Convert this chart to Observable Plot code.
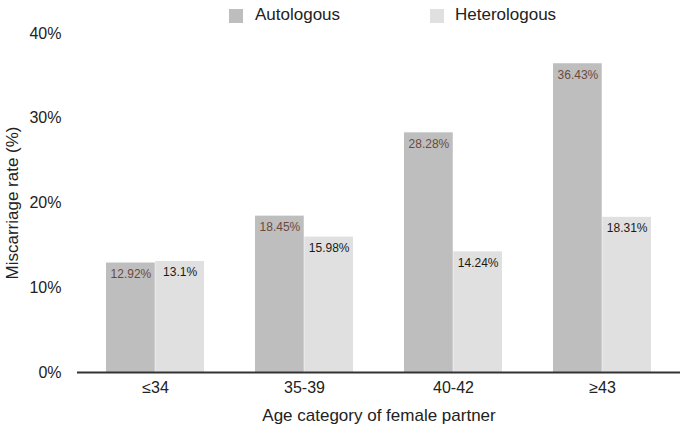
<!DOCTYPE html>
<html>
<head>
<meta charset="utf-8">
<script src="https://cdn.jsdelivr.net/npm/d3@7"></script>
<script src="https://cdn.jsdelivr.net/npm/@observablehq/plot@0.6"></script>
<style>
  body { margin: 0; background: #fff; font-family: "Liberation Sans", Arial, sans-serif; }
  #wrap { position: relative; width: 680px; height: 428px; }
  #legend { position: absolute; top: 0; left: 0; width: 680px; height: 30px; font-size: 17px; color: #222; }
  .sw { position: absolute; top: 9px; width: 14px; height: 14px; }
  .lb { position: absolute; top: 5px; line-height: 20px; }
</style>
</head>
<body>
<div id="wrap">
  <div id="chart"></div>
  <div id="legend"></div>
</div>
<script>
const ages = ["≤34", "35-39", "40-42", "≥43"];
const series = ["Autologous", "Heterologous"];
const autologous = [12.92, 18.45, 28.28, 36.43];
const heterologous = [13.1, 15.98, 14.24, 18.31];
const autoLabels = ["12.92%", "18.45%", "28.28%", "36.43%"];
const heteroLabels = ["13.1%", "15.98%", "14.24%", "18.31%"];
const yTicks = [0, 10, 20, 30, 40];
const colors = ["#bebebe", "#e0e0e0"];

const autoData = ages.map((a, i) => ({age: a, value: autologous[i], label: autoLabels[i]}));
const heteroData = ages.map((a, i) => ({age: a, value: heterologous[i], label: heteroLabels[i]}));

const W = 680, H = 428, ML = 77, MR = 0;
const pIn = 0.34, pOut = 0.19;
const step = (W - ML - MR) / (ages.length - pIn + 2 * pOut);
const half = step * (1 - pIn) / 2;

const plot = Plot.plot({
  width: W,
  height: H,
  marginLeft: ML,
  marginRight: MR,
  marginTop: 33,
  marginBottom: 56,
  style: {fontFamily: "'Liberation Sans', Arial, sans-serif", fontSize: "16px", color: "#222", background: "#fff"},
  x: {type: "band", domain: ages, paddingInner: pIn, paddingOuter: pOut},
  y: {domain: [0, 40]},
  marks: [
    Plot.barY(autoData, {x: "age", y: "value", fill: colors[0], insetRight: half}),
    Plot.barY(heteroData, {x: "age", y: "value", fill: colors[1], insetLeft: half}),
    Plot.text(autoData, {x: "age", y: "value", text: "label", dx: -half / 2, dy: 11, fill: "#6b4a3e", fontSize: 12}),
    Plot.text(heteroData, {x: "age", y: "value", text: "label", dx: half / 2, dy: 11, fill: "#1a1a1a", fontSize: 12}),
    Plot.ruleY([0], {stroke: "#333", strokeWidth: 2}),
    Plot.axisY({ticks: yTicks, tickFormat: d => d + "%", tickSize: 0, tickPadding: 16, fontSize: 16,
      label: "Miscarriage rate (%)", labelAnchor: "center", labelOffset: 72, labelArrow: "none"}),
    Plot.axisX({tickSize: 0, tickPadding: 9, fontSize: 16,
      label: "Age category of female partner", labelAnchor: "center", labelOffset: 48, labelArrow: "none"})
  ]
});
document.getElementById("chart").append(plot);
plot.querySelectorAll("g[aria-label='y-axis label'] text, g[aria-label='x-axis label'] text").forEach(t => t.setAttribute("font-size", 17));
plot.querySelectorAll("g[aria-label='y-axis label'], g[aria-label='x-axis label']").forEach(g => g.setAttribute("font-size", 17));

const legend = document.getElementById("legend");
const legendPos = [[229, 255], [430, 455]];
series.forEach((s, i) => {
  const sw = document.createElement("div");
  sw.className = "sw";
  sw.style.left = legendPos[i][0] + "px";
  sw.style.background = colors[i];
  const lb = document.createElement("div");
  lb.className = "lb";
  lb.style.left = legendPos[i][1] + "px";
  lb.textContent = s;
  legend.append(sw, lb);
});
</script>
</body>
</html>
